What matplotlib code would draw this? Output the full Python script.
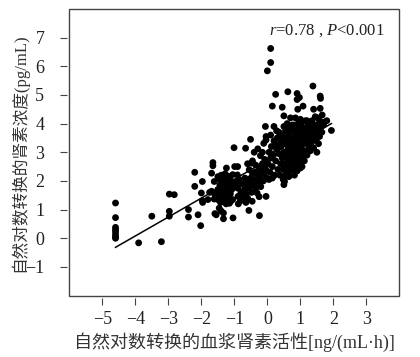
import numpy as np
import matplotlib
matplotlib.use("Agg")
import matplotlib.pyplot as plt
from matplotlib.patches import Rectangle

plt.rcParams['font.family'] = ['Liberation Serif', 'Noto Sans CJK SC', 'DejaVu Sans']
plt.rcParams['mathtext.fontset'] = 'custom'
plt.rcParams['mathtext.rm'] = 'Liberation Serif'
plt.rcParams['mathtext.it'] = 'Liberation Serif:italic'

# points, grouped by region (x = ln renin activity, y = ln renin conc.)
x_a = [-4.6] * 8
y_a = [1.23, 0.72, 0.38, 0.30, 0.22, 0.12, 0.04, 0.0]

x_b = [-3.9, -3.5, -3.21, -2.97, -2.97, -2.97, -2.82, -2.39, -2.39, -2.2, -2.2,
       -2.1, -2.02, -1.97, -2.0, -1.97, -1.96]
y_b = [-0.16, 0.77, -0.12, 0.94, 0.77, 1.54, 1.52, 1.0, 0.74, 2.3, 1.81,
       0.82, 0.44, 1.98, 1.58, 1.31, 1.25]

x_c = [-1.65, -1.65, -1.69, -1.61, -1.69, -1.61, -1.59, -1.55, -1.46, -1.33, -1.33,
       -1.24, -1.23, -1.04, -1.01, -0.99, -0.91, -0.89, -0.88, -1.11, -1.15,
       -1.5, -1.45, -1.4, -1.35, -1.3, -1.28, -1.2, -1.15, -1.1, -1.05,
       -1.5, -1.45, -1.4, -1.38, -1.32, -1.3, -1.25, -1.22, -1.2, -1.18, -1.12, -1.08, -1.05, -1.02,
       -1.5, -1.42, -1.35, -1.28, -1.25, -1.4, -1.55, -1.6, -1.75, -1.8,
       -1.36, -1.26, -1.16, -1.44, -1.2]
y_c = [2.64, 2.53, 2.27, 1.98, 1.64, 1.37, 0.86, 0.82, 1.05, 0.88, 0.68,
       2.45, 2.18, 0.71, 3.16, 2.5, 2.21, 1.46, 1.2, 1.29, 1.22,
       2.15, 2.05, 2.2, 2.1, 1.95, 2.25, 2.05, 2.15, 2.0, 2.22,
       1.7, 1.55, 1.45, 1.65, 1.8, 1.5, 1.6, 1.75, 1.4, 1.85, 1.55, 1.7, 1.35, 1.85,
       1.35, 1.25, 1.3, 1.38, 1.2, 0.95, 1.4, 1.55, 1.6, 1.35,
       1.9, 1.9, 1.6, 1.85, 1.25]

x_d = [-0.56, -0.66, -0.51, -0.49, -0.55, -0.24, -0.31, -0.46, -0.04, -0.21, -0.29,
       -0.11, -0.06, -0.04, -0.04,
       -0.95, -0.9, -0.85, -0.8, -0.78, -0.75, -0.72, -0.7, -0.68, -0.65, -0.62, -0.6,
       -0.58, -0.55, -0.52, -0.5, -0.48, -0.45, -0.42, -0.4, -0.38, -0.35, -0.33, -0.3,
       -0.28, -0.25, -0.22, -0.2, -0.18, -0.15, -0.12, -0.1, -0.08, -0.05, -0.02,
       -0.35, -0.45, -0.6, -0.4, -0.15, -0.25, -0.65, -0.82, -0.9,
       -0.62, -0.5, -0.3, -0.12, -0.2]
y_d = [0.97, 3.14, 3.45, 2.62, 2.39, 0.79, 1.58, 1.29, 1.46, 2.88, 3.12,
       3.31, 3.9, 3.55, 3.43,
       1.95, 1.75, 2.05, 1.6, 1.9, 1.45, 1.35, 1.7, 2.1, 1.55, 1.85, 1.4,
       2.0, 1.75, 1.9, 2.1, 1.6, 2.25, 1.85, 1.95, 2.3, 1.75, 2.05, 2.2,
       1.9, 2.45, 2.1, 1.8, 2.3, 2.6, 2.0, 2.25, 2.75, 2.4, 2.1,
       2.55, 2.7, 2.6, 3.0, 3.0, 1.45, 1.25, 1.3, 2.5,
       1.95, 1.85, 1.95, 2.45, 2.0]

x_e = [0.0, 0.1, 0.1, 0.15, 0.25,
       0.02, 0.05, 0.08, 0.1, 0.12, 0.15, 0.18, 0.2, 0.22, 0.25, 0.28, 0.3,
       0.32, 0.35, 0.38, 0.4, 0.05, 0.15, 0.2, 0.28, 0.1, 0.35, 0.38,
       0.25, 0.33, 0.12]
y_e = [5.84, 6.13, 6.62, 4.61, 5.02,
       2.6, 3.0, 2.3, 2.8, 3.2, 2.5, 2.9, 3.4, 2.2, 2.7, 3.1, 3.5,
       2.4, 2.95, 3.3, 2.6, 2.05, 2.1, 3.9, 3.75, 3.6, 3.7, 2.2,
       3.25, 3.15, 2.95]

x_f = [0.45, 0.5, 0.62, 0.9, 0.9, 0.97, 0.92, 1.08, 1.38, 1.6, 1.61, 1.4, 1.6, 1.66,
       1.45, 1.8, 1.94, 1.58, 1.62, 0.5, 0.52,
       0.42, 0.45, 0.45, 0.48, 0.5, 0.5, 0.52, 0.55, 0.55, 0.58, 0.6, 0.6, 0.62, 0.63,
       0.65, 0.65, 0.68, 0.7, 0.7, 0.72, 0.73, 0.75, 0.75, 0.78, 0.8, 0.8, 0.82, 0.84,
       0.85, 0.87, 0.88, 0.9, 0.9, 0.92, 0.94, 0.95, 0.97, 0.98, 1.0, 1.0, 1.02, 1.04,
       1.05, 1.06, 1.08, 1.1, 1.1, 1.12, 1.15, 1.15, 1.18, 1.2, 1.22, 1.25, 1.25, 1.28,
       1.3, 1.32, 1.35, 1.35, 1.38, 1.4, 1.42, 1.45, 1.48, 1.5, 1.52, 1.55, 1.55, 1.58,
       1.65, 1.7, 1.72, 1.5, 1.3, 1.2,
       0.6, 0.7, 0.8, 0.85, 1.0, 1.2, 0.55, 0.45,
       0.48, 0.6, 0.75, 0.9, 0.65, 0.82, 1.0,
       0.95, 0.72, 0.58, 0.68, 0.78, 0.88, 1.05, 1.12, 0.5,
       0.66, 0.76, 0.86, 0.96, 1.06, 1.16, 1.26, 1.36, 1.46, 0.7, 0.8, 0.92,
       1.02, 1.14, 1.24, 1.34, 0.62, 0.74, 0.84, 1.44]
y_f = [4.57, 4.27, 5.11, 5.05, 4.84, 4.91, 4.5, 4.61, 5.31, 4.96, 4.88, 4.5, 4.53, 4.3,
       4.24, 4.1, 3.76, 4.1, 3.9, 1.87, 1.98,
       3.2, 2.8, 3.6, 2.4, 3.0, 3.9, 2.6, 3.3, 2.2, 2.9, 3.6, 2.5, 3.1, 3.85,
       2.7, 3.4, 2.35, 3.0, 3.7, 2.6, 3.25, 3.95, 2.85, 3.5, 2.5, 3.1, 3.75, 2.75,
       3.35, 3.0, 3.6, 2.55, 3.9, 3.2, 2.85, 3.5, 3.05, 3.75, 2.7, 3.35, 3.95, 3.1,
       2.5, 3.6, 2.9, 3.3, 3.8, 3.5, 3.05, 4.1, 3.7, 3.3, 3.9, 3.5, 3.1, 4.0,
       3.65, 3.3, 3.85, 4.1, 3.5, 3.15, 3.7, 3.95, 3.4, 3.6, 4.2, 3.8, 3.3, 3.55,
       3.7, 3.95, 4.05, 3.0, 3.05, 2.9,
       4.0, 4.2, 3.95, 4.2, 4.15, 4.1, 3.75, 3.4,
       2.05, 2.3, 2.4, 2.35, 2.15, 2.2, 2.45,
       4.05, 3.85, 3.45, 3.15, 2.7, 2.95, 3.45, 2.7, 2.5,
       3.55, 3.35, 3.15, 3.3, 3.65, 3.4, 3.75, 3.6, 3.85, 2.85, 3.25, 3.65,
       3.2, 3.85, 3.45, 3.95, 2.75, 3.1, 3.45, 3.5]

x = np.array(x_a + x_b + x_c + x_d + x_e + x_f)
y = np.array(y_a + y_b + y_c + y_d + y_e + y_f)

# regression line as drawn in the figure
fit_intercept = 2.72
fit_slope = 0.66

x_ticks = [-5, -4, -3, -2, -1, 0, 1, 2, 3]
y_ticks = [-1, 0, 1, 2, 3, 4, 5, 6, 7]

fig = plt.figure(figsize=(4.2, 3.57), dpi=100)
ax = fig.add_axes([0.165, 0.172, 0.786, 0.803])

ax.scatter(x, y, s=24, c='black', edgecolors='none', zorder=3)
xl = np.array([x.min(), x.max()])
ax.plot(xl, fit_intercept + fit_slope * xl, color='black', lw=1.1, zorder=2)

ax.set_xlim(-6, 4)
ax.set_ylim(-2, 8)
ax.set_xticks(x_ticks)
ax.set_yticks(y_ticks)
ax.set_xticklabels([str(t).replace('-', '\u2212') for t in x_ticks])
ax.set_yticklabels([str(t).replace('-', '\u2212') for t in y_ticks])

for side in ['top', 'right']:
    ax.spines[side].set_visible(False)
for side in ['left', 'bottom']:
    ax.spines[side].set_position(('outward', 2))
    ax.spines[side].set_color('none')
ax.add_patch(Rectangle((0, 0), 1, 1, transform=ax.transAxes, fill=False,
                       edgecolor='#444444', lw=1.0, clip_on=False, zorder=5))
ax.tick_params(direction='out', length=5, width=0.8, color='#444444',
               labelsize=13, labelcolor='#222222')
ax.tick_params(axis='x', pad=4)
ax.tick_params(axis='y', pad=11)

ax.set_xlabel('自然对数转换的血浆肾素活性[ng/(mL·h)]', fontsize=13, color='#333333', labelpad=3)
ax.set_ylabel('自然对数转换的肾素浓度(pg/mL)', fontsize=12, color='#333333')
ax.yaxis.set_label_coords(-0.125, 0.5)

ax.text(0.955, 0.955, r'$r$=0.78 , $P$<0.001', transform=ax.transAxes,
        ha='right', va='top', fontsize=12, color='#222222')

fig.savefig('out.png', dpi=100)
